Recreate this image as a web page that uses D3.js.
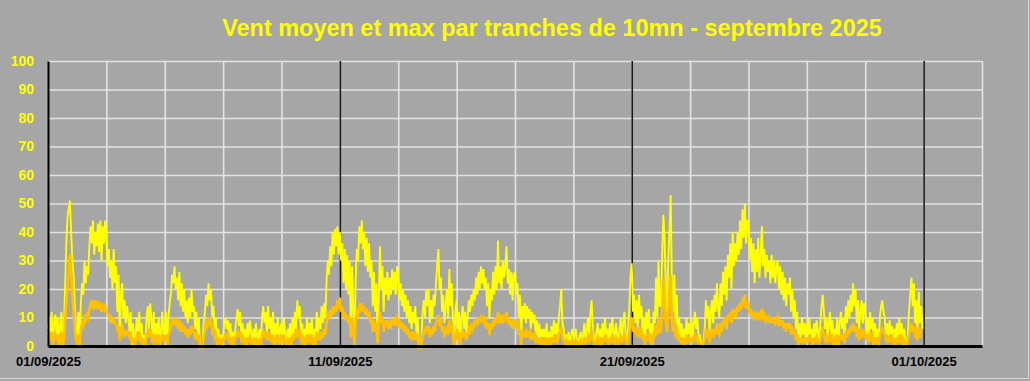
<!DOCTYPE html>
<html>
<head>
<meta charset="utf-8">
<script src="https://cdn.jsdelivr.net/npm/d3@7"></script>
<style>
  body { margin: 0; background: #a6a6a6; }
  svg { display: block; font-family: "Liberation Sans", Arial, sans-serif; }
</style>
</head>
<body>
<div id="chart"></div>
<script>
// title and axis labels
const chartTitle = "Vent moyen et max par tranches de 10mn - septembre 2025";
const yTicks = [0, 10, 20, 30, 40, 50, 60, 70, 80, 90, 100];
const xTickLabels = ["01/09/2025", "11/09/2025", "21/09/2025", "01/10/2025"];

// wind max (km/h), one value per hour, 24 per day
const maxWind = [
  6, 10, 3, 12, 0, 8, 11, 4, 10, 0, 7, 12, 0, 5, 20, 35, 45, 48, 51, 40, 30, 25, 15, 5,        // 01/09
  3, 12, 0, 15, 22, 18, 30, 22, 28, 25, 35, 42, 36, 44, 32, 40, 35, 43, 33, 44, 30, 42, 36, 44,  // 02/09
  38, 28, 34, 24, 30, 20, 34, 22, 28, 12, 25, 2, 18, 22, 10, 16, 8, 14, 10, 5, 12, 0, 8, 0,      // 03/09
  3, 10, 5, 12, 2, 8, 0, 4, 0, 10, 14, 6, 15, 10, 3, 12, 0, 8, 4, 10, 0, 6, 12, 4,              // 04/09
  5, 12, 0, 10, 15, 18, 25, 22, 28, 20, 24, 16, 26, 14, 22, 12, 20, 10, 16, 8, 17, 10, 20, 12,   // 05/09
  14, 6, 12, 4, 10, 0, 2, 0, 8, 12, 18, 14, 22, 16, 20, 10, 14, 6, 10, 2, 6, 0, 4, 2,           // 06/09
  4, 8, 10, 6, 9, 3, 8, 0, 5, 2, 6, 10, 13, 7, 12, 4, 8, 2, 6, 0, 8, 3, 9, 5,                   // 07/09
  0, 6, 2, 8, 0, 4, 6, 0, 10, 14, 8, 12, 4, 14, 6, 10, 2, 12, 0, 8, 4, 10, 2, 6,                // 08/09
  8, 2, 10, 4, 0, 6, 2, 8, 0, 10, 4, 12, 6, 16, 10, 14, 4, 8, 0, 6, 2, 10, 4, 8,                // 09/09
  4, 10, 0, 6, 2, 12, 4, 10, 6, 14, 8, 15, 10, 22, 30, 25, 35, 28, 40, 32, 41, 35, 42, 32,      // 10/09
  40, 30, 36, 22, 34, 20, 32, 18, 30, 5, 28, 12, 0, 24, 34, 30, 42, 36, 44, 34, 40, 28, 38, 26,  // 11/09
  36, 24, 30, 14, 26, 12, 22, 2, 18, 35, 20, 28, 12, 24, 18, 26, 16, 24, 18, 27, 20, 26, 18, 28, // 12/09
  24, 16, 22, 14, 20, 12, 18, 10, 16, 8, 14, 6, 12, 8, 14, 4, 10, 0, 2, 0, 12, 16, 10, 20,      // 13/09
  14, 20, 8, 16, 10, 18, 14, 22, 28, 34, 20, 24, 12, 18, 8, 14, 20, 10, 27, 14, 22, 8, 0, 12,   // 14/09
  16, 4, 12, 0, 10, 14, 6, 12, 4, 10, 16, 12, 18, 14, 20, 16, 24, 18, 26, 20, 28, 22, 27, 20,   // 15/09
  24, 14, 22, 10, 20, 16, 26, 18, 28, 20, 37, 22, 28, 20, 30, 24, 28, 35, 22, 27, 18, 26, 16, 25, // 16/09
  26, 18, 22, 10, 18, 0, 14, 10, 15, 8, 14, 10, 13, 6, 12, 8, 11, 4, 9, 2, 8, 0, 6, 3,          // 17/09
  6, 0, 8, 2, 5, 0, 7, 3, 9, 4, 8, 2, 10, 14, 20, 8, 6, 2, 4, 0, 5, 0, 3, 6,                    // 18/09
  4, 0, 6, 2, 0, 3, 5, 0, 4, 8, 2, 6, 10, 4, 12, 16, 6, 3, 0, 5, 8, 2, 6, 0,                    // 19/09
  8, 2, 10, 4, 6, 0, 8, 3, 10, 5, 2, 8, 4, 0, 6, 10, 3, 8, 12, 4, 0, 6, 14, 25,                 // 20/09
  29, 12, 18, 8, 16, 6, 18, 10, 14, 4, 10, 0, 12, 6, 13, 4, 8, 0, 12, 8, 24, 10, 30, 14,        // 21/09
  14, 32, 46, 38, 20, 12, 30, 40, 53, 22, 12, 25, 8, 18, 4, 10, 2, 8, 0, 6, 2, 10, 4, 8,        // 22/09
  4, 10, 2, 8, 12, 6, 10, 2, 4, 0, 0, 2, 6, 16, 10, 14, 4, 12, 16, 8, 18, 12, 22, 14,           // 23/09
  10, 22, 14, 26, 18, 28, 16, 32, 24, 36, 20, 40, 28, 36, 30, 40, 32, 44, 34, 48, 38, 50, 36, 44, // 24/09
  44, 30, 38, 26, 36, 22, 34, 26, 38, 24, 32, 42, 28, 34, 24, 32, 26, 30, 22, 32, 24, 30, 22, 28, // 25/09
  30, 20, 28, 18, 26, 16, 24, 14, 22, 18, 24, 12, 20, 10, 16, 6, 12, 0, 8, 2, 10, 4, 8, 2,      // 26/09
  8, 2, 10, 4, 6, 0, 8, 3, 9, 5, 2, 7, 14, 18, 12, 6, 10, 3, 8, 12, 4, 9, 0, 6,                 // 27/09
  4, 10, 0, 8, 12, 6, 10, 2, 14, 8, 16, 10, 18, 12, 22, 14, 20, 8, 16, 6, 12, 16, 8, 15,        // 28/09
  12, 4, 10, 2, 12, 6, 10, 0, 8, 3, 6, 0, 10, 14, 16, 12, 10, 4, 8, 2, 9, 4, 7, 2,              // 29/09
  6, 2, 8, 3, 10, 4, 8, 0, 6, 2, 0, 4, 12, 18, 24, 14, 22, 8, 16, 4, 19, 8, 14, 6               // 30/09
];

// wind mean (km/h), same hours
const meanWind = [
  5, 4, 2, 5, 0, 3, 4, 2, 4, 0, 3, 5, 0, 2, 8, 15, 20, 25, 32, 25, 18, 12, 6, 2,     // 01/09
  1, 4, 0, 6, 8, 7, 10, 9, 11, 10, 13, 15, 14, 16, 13, 15, 14, 16, 13, 15, 12, 14, 13, 14, // 02/09
  12, 11, 11, 9, 10, 8, 10, 8, 8, 6, 7, 2, 6, 7, 4, 5, 4, 5, 4, 3, 4, 1, 3, 0,      // 03/09
  1, 4, 2, 5, 1, 3, 0, 2, 0, 4, 5, 3, 6, 4, 1, 4, 0, 3, 2, 4, 0, 2, 4, 2,           // 04/09
  2, 4, 0, 4, 5, 6, 9, 8, 10, 8, 9, 6, 9, 5, 8, 5, 7, 4, 6, 3, 6, 4, 7, 5,          // 05/09
  5, 3, 4, 2, 4, 0, 1, 0, 3, 5, 8, 7, 10, 8, 9, 5, 6, 3, 4, 1, 2, 0, 2, 1,          // 06/09
  2, 3, 4, 3, 4, 1, 3, 0, 2, 1, 3, 4, 5, 3, 5, 2, 3, 1, 2, 0, 3, 1, 3, 2,           // 07/09
  0, 2, 1, 3, 0, 2, 2, 0, 4, 5, 3, 5, 2, 5, 2, 4, 1, 4, 0, 3, 1, 4, 1, 2,           // 08/09
  3, 1, 4, 2, 0, 2, 1, 3, 0, 4, 2, 5, 3, 6, 4, 5, 2, 3, 0, 2, 1, 4, 2, 3,           // 09/09
  1, 4, 0, 2, 1, 5, 2, 4, 2, 5, 3, 6, 4, 8, 11, 10, 12, 11, 13, 12, 14, 12, 16, 13, // 10/09
  17, 12, 13, 10, 12, 9, 11, 8, 10, 3, 10, 5, 0, 9, 12, 11, 14, 13, 15, 12, 14, 11, 13, 10, // 11/09
  12, 9, 10, 5, 9, 5, 8, 1, 7, 12, 8, 10, 5, 9, 7, 9, 6, 8, 7, 9, 8, 9, 7, 10,      // 12/09
  9, 7, 8, 6, 8, 5, 7, 4, 6, 3, 5, 2, 4, 3, 5, 2, 4, 0, 1, 0, 4, 6, 4, 7,           // 13/09
  5, 7, 3, 6, 4, 7, 5, 8, 9, 11, 8, 9, 5, 7, 3, 5, 7, 4, 9, 5, 8, 3, 0, 4,          // 14/09
  6, 2, 5, 0, 4, 5, 3, 5, 2, 4, 6, 5, 7, 6, 8, 7, 9, 8, 10, 8, 10, 9, 10, 8,        // 15/09
  9, 6, 8, 4, 8, 6, 9, 7, 10, 8, 12, 9, 10, 8, 11, 9, 10, 12, 8, 10, 7, 9, 6, 9,    // 16/09
  9, 7, 8, 4, 6, 0, 5, 4, 5, 3, 5, 4, 5, 2, 4, 3, 4, 1, 3, 1, 3, 0, 2, 1,           // 17/09
  2, 0, 3, 1, 2, 0, 3, 1, 3, 2, 3, 1, 4, 5, 6, 3, 2, 1, 2, 0, 2, 0, 1, 2,           // 18/09
  1, 0, 2, 1, 0, 1, 2, 0, 1, 3, 1, 2, 3, 1, 4, 5, 2, 1, 0, 2, 3, 1, 2, 0,           // 19/09
  3, 1, 4, 2, 2, 0, 3, 1, 4, 2, 1, 3, 2, 0, 2, 4, 1, 3, 4, 2, 0, 2, 5, 9,           // 20/09
  10, 5, 7, 4, 6, 3, 7, 4, 5, 2, 4, 0, 4, 2, 5, 2, 3, 0, 4, 3, 8, 4, 10, 5,         // 21/09
  5, 12, 24, 16, 8, 5, 12, 18, 25, 9, 5, 10, 3, 7, 2, 4, 1, 3, 0, 2, 1, 4, 2, 3,    // 22/09
  1, 3, 1, 3, 4, 2, 3, 1, 1, 0, 0, 1, 2, 6, 4, 5, 1, 4, 6, 3, 6, 4, 8, 5,           // 23/09
  4, 8, 5, 9, 7, 10, 6, 11, 9, 12, 8, 13, 10, 12, 11, 14, 12, 15, 13, 17, 14, 18, 13, 15, // 24/09
  15, 11, 13, 10, 12, 9, 11, 10, 12, 9, 11, 13, 10, 11, 9, 10, 9, 10, 8, 10, 8, 10, 8, 9, // 25/09
  10, 7, 9, 7, 9, 6, 8, 5, 8, 6, 8, 4, 7, 4, 6, 2, 4, 0, 3, 1, 3, 1, 3, 1,          // 26/09
  3, 1, 3, 2, 2, 0, 3, 1, 3, 2, 1, 2, 5, 6, 4, 2, 3, 1, 3, 4, 2, 3, 0, 2,           // 27/09
  1, 4, 0, 3, 4, 2, 4, 1, 5, 3, 6, 4, 7, 5, 8, 5, 7, 3, 6, 2, 4, 6, 3, 5,           // 28/09
  4, 2, 4, 1, 5, 3, 4, 0, 3, 1, 3, 0, 4, 5, 6, 5, 4, 2, 3, 1, 3, 2, 3, 1,           // 29/09
  2, 1, 3, 1, 4, 2, 3, 0, 2, 1, 0, 2, 4, 6, 8, 5, 7, 3, 6, 2, 7, 3, 6, 6            // 30/09
];

const W = 1030, H = 381;
const plot = { left: 48, right: 982, top: 61, bottom: 346 };

const parseDay = d3.timeParse("%d/%m/%Y");
const fmtDay = d3.timeFormat("%d/%m/%Y");
const startDate = new Date(2025, 8, 1);
const endDate = new Date(2025, 9, 3);

const svg = d3.select("#chart")
    .append("svg")
    .attr("width", W)
    .attr("height", H);

// chart frame
svg.append("rect")
    .attr("x", -1).attr("y", -1)
    .attr("width", W - 0.5).attr("height", H - 1.5)
    .attr("fill", "#a6a6a6")
    .attr("stroke", "#d9d9d9")
    .attr("stroke-width", 1);

const x = d3.scaleTime()
    .domain([startDate, endDate])
    .range([plot.left, plot.right]);

const y = d3.scaleLinear()
    .domain([0, 100])
    .range([plot.bottom, plot.top]);

const pWidth = plot.right - plot.left;
const pHeight = plot.bottom - plot.top;

// horizontal gridlines
svg.append("g")
    .attr("class", "grid-y")
    .attr("transform", `translate(${plot.left},0)`)
    .call(d3.axisLeft(y).tickValues(yTicks.slice(1)).tickSize(-pWidth).tickFormat(""))
    .call(g => g.select(".domain").remove())
    .call(g => g.selectAll("line").attr("stroke", "#e3e3e3").attr("stroke-width", 1.6));

// vertical gridlines, every 2 days
const minorDays = d3.timeDay.range(new Date(2025, 8, 3), d3.timeDay.offset(endDate, 1), 2);
svg.append("g")
    .attr("class", "grid-x")
    .attr("transform", `translate(0,${plot.bottom})`)
    .call(d3.axisBottom(x).tickValues(minorDays).tickSize(-pHeight).tickFormat(""))
    .call(g => g.select(".domain").remove())
    .call(g => g.selectAll("line").attr("stroke", "#e3e3e3").attr("stroke-width", 1.6));

// black lines every 10 days
const majorDays = xTickLabels.map(parseDay);
svg.append("g")
    .attr("transform", `translate(0,${plot.bottom})`)
    .call(d3.axisBottom(x).tickValues(majorDays.slice(1)).tickSize(-pHeight).tickFormat(""))
    .call(g => g.select(".domain").remove())
    .call(g => g.selectAll("line").attr("stroke", "#1a1a1a").attr("stroke-width", 1.6));

// series
const hourDate = i => new Date(2025, 8, 1, i);
const line = d3.line()
    .x((d, i) => x(hourDate(i)))
    .y(d => y(d));

svg.append("path")
    .datum(maxWind)
    .attr("fill", "none")
    .attr("stroke", "#ffff00")
    .attr("stroke-width", 1.9)
    .attr("d", line);

svg.append("path")
    .datum(meanWind)
    .attr("fill", "none")
    .attr("stroke", "#ffc000")
    .attr("stroke-width", 2.6)
    .attr("d", line);

// y axis
svg.append("g")
    .attr("class", "y-axis")
    .attr("transform", `translate(${plot.left},0)`)
    .call(d3.axisLeft(y).tickValues(yTicks).tickSize(0).tickPadding(14))
    .call(g => g.select(".domain").attr("stroke", "#000").attr("stroke-width", 2))
    .call(g => g.selectAll("text")
        .attr("fill", "#ffff00")
        .attr("font-size", 14)
        .attr("font-weight", "bold")
        .attr("font-family", "'Liberation Sans', Arial, sans-serif"));

// x axis
svg.append("g")
    .attr("class", "x-axis")
    .attr("transform", `translate(0,${plot.bottom})`)
    .call(d3.axisBottom(x).tickValues(majorDays).tickSize(0).tickPadding(11).tickFormat(fmtDay))
    .call(g => g.select(".domain").attr("stroke", "#000").attr("stroke-width", 3))
    .call(g => g.selectAll("text")
        .attr("fill", "#000")
        .attr("font-size", 13)
        .attr("font-weight", "bold")
        .attr("font-family", "'Liberation Sans', Arial, sans-serif"));

// title, sized to fit the original width
const title = svg.append("text")
    .attr("class", "chart-title")
    .attr("x", 552)
    .attr("y", 36)
    .attr("text-anchor", "middle")
    .attr("fill", "#ffff00")
    .attr("font-weight", "bold")
    .attr("font-size", 20)
    .text(chartTitle);
const tLen = title.node().getComputedTextLength();
title.attr("font-size", 20 * 660 / tLen);
</script>
</body>
</html>
